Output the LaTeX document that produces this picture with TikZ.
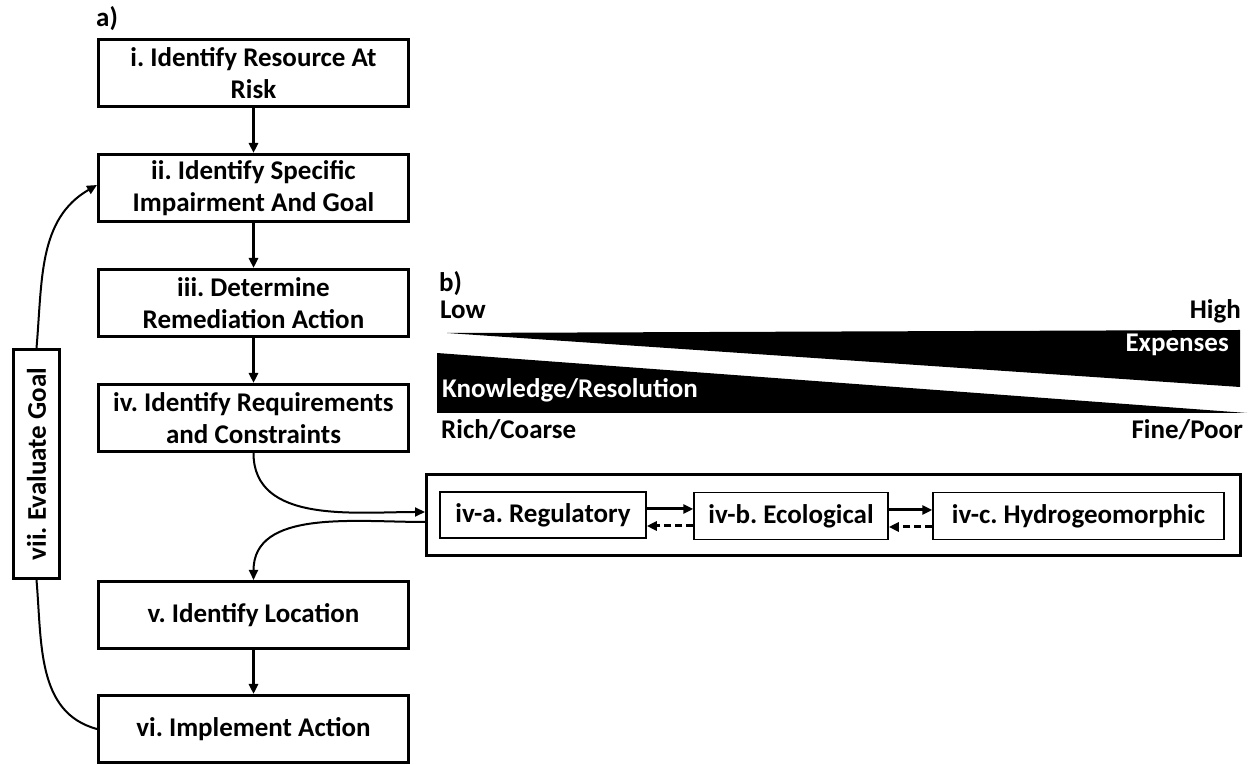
\documentclass[tikz,border=0pt]{standalone}
\usepackage{fontspec}
\setmainfont{Carlito}
\frenchspacing
\usetikzlibrary{arrows.meta}
\tikzset{
  mainbox/.style={draw, line width=3pt, minimum width=310pt, minimum height=67pt, align=center, inner sep=2pt, font=\bfseries\fontsize{27}{32}\selectfont},
  subbox/.style={draw, line width=1.5pt, minimum height=46pt, inner sep=2pt, font=\bfseries\fontsize{27}{30}\selectfont},
  lbl/.style={inner sep=0pt, font=\bfseries\fontsize{27}{30}\selectfont},
  flow/.style={line width=2.5pt, -{Triangle[length=10pt,width=9pt]}},
  curve/.style={line width=2pt},
  small/.style={line width=3pt, -{Triangle[length=10pt,width=9pt]}},
}
\begin{document}
\begin{tikzpicture}[x=1pt,y=1pt]
\useasboundingbox (0,0) rectangle (1252,765);
% left flow
\node[mainbox] (i) at (253.5,691.5) {i. Identify Resource At\\Risk};
\node[mainbox] (ii) at (253.5,577) {ii. Identify Specific\\Impairment And Goal};
\node[mainbox] (iii) at (253.5,462) {iii. Determine\\Remediation Action};
\node[mainbox] (iv) at (253.5,347) {iv. Identify Requirements\\and Constraints};
\node[mainbox] (v) at (253.5,150) {v. Identify Location};
\node[mainbox] (vi) at (253.5,36) {vi. Implement Action};
\node[draw, line width=3pt, rotate=90, minimum width=229pt, minimum height=46pt, inner sep=2pt, font=\bfseries\fontsize{27}{30}\selectfont] (vii) at (36.5,301) {vii. Evaluate Goal};
\node[lbl, anchor=base west] (la) at (96,738) {a)};
% arrows
\draw[flow] (i) -- (ii);
\draw[flow] (ii) -- (iii);
\draw[flow] (iii) -- (iv);
\draw[flow] (v) -- (vi);
\draw[curve, -{Triangle[length=10pt,width=9pt]}] (vii.east) to[out=85,in=210] ([yshift=3pt]ii.west);
\draw[curve] (vii.west) to[out=-85,in=165] (vi.west);
% b)
\node[lbl, anchor=base west] (lb) at (439,473) {b)};
\node[lbl, anchor=base west] (low) at (440,446) {Low};
\node[lbl, anchor=base east] (high) at (1241,446) {High};
\fill (447,432) -- (1240,435) -- (1240,378) -- cycle;
\fill (437,412) -- (437,352) -- (1247,352) -- cycle;
\node[lbl, anchor=base east, text=white] (exp) at (1229,413) {Expenses};
\node[lbl, anchor=base west, text=white] (kr) at (442,367) {Knowledge/Resolution};
\node[lbl, anchor=base west] (rc) at (441,326) {Rich/Coarse};
\node[lbl, anchor=base east] (fp) at (1243,326) {Fine/Poor};
% requirement box
\node[draw, line width=3pt, minimum width=814pt, minimum height=81pt] (big) at (833.5,250) {};
\node[subbox, minimum width=206pt] (a) at (543,250) {iv-a. Regulatory};
\node[subbox, minimum width=194pt, minimum height=47pt] (b) at (791,249) {iv-b. Ecological};
\node[subbox, minimum width=291pt, minimum height=47pt] (c) at (1078.5,249) {iv-c. Hydrogeomorphic};
\draw[small] ([yshift=6pt]a.east) -- ([yshift=6pt]a.east -| b.west);
\draw[small, dash pattern=on 7pt off 4pt] ([yshift=-11pt]a.east -| b.west) -- ([yshift=-11pt]a.east);
\draw[small] ([yshift=6pt]b.east) -- ([yshift=6pt]b.east -| c.west);
\draw[small, dash pattern=on 7pt off 4pt] ([yshift=-11pt]b.east -| c.west) -- ([yshift=-11pt]b.east);
\draw[curve, -{Triangle[length=10pt,width=9pt]}] (iv.south) to[out=-90,in=180] ([yshift=3pt]big.west);
\draw[curve, -{Triangle[length=10pt,width=9pt]}] ([yshift=-7pt]big.west) to[out=180,in=90] (v.north);
\end{tikzpicture}
\end{document}
